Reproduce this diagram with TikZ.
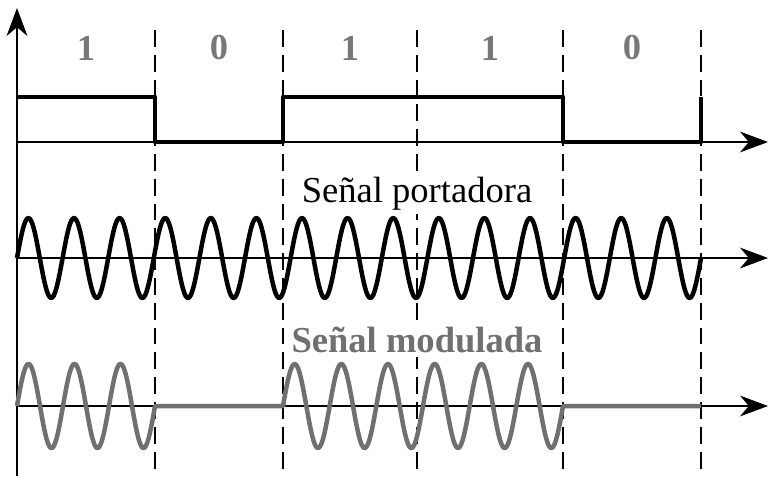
\documentclass[tikz,border=0pt]{standalone}
\usepackage{fontspec}
\setmainfont{Liberation Serif}
\usetikzlibrary{arrows.meta}
\definecolor{gristexto}{RGB}{120,120,120}
\definecolor{grisonda}{RGB}{112,112,112}

\begin{document}
\begin{tikzpicture}[x=0.025cm,y=0.025cm,line join=round,
  eje/.style={line width=1.2pt,-{Stealth[length=0.7cm,width=0.52cm,inset=0.22cm]}},
  limite/.style={line width=1.1pt,dash pattern=on 0.42cm off 0.2cm},
  digital/.style={line width=3pt},
  portadora/.style={line width=3.2pt,samples=500},
  modulada/.style={line width=3.2pt,grisonda,samples=300},
  bit/.style={font=\fontsize{26}{30}\selectfont\bfseries,text=gristexto,inner sep=0pt},
  titulo/.style={font=\fontsize{26}{30}\selectfont,fill=white,inner sep=3pt,anchor=base}]
  \useasboundingbox (0,0) rectangle (768,476);
  % Ejes
  \coordinate (origen) at (17,0);
  \coordinate (tope) at (17,468);
  \draw[eje] (origen) -- (tope);
  \foreach \n/\y in {dig/334,port/218,mod/70}{
    \coordinate (\n-ini) at (17,\y);
    \coordinate (\n-fin) at (768,\y);
    \draw[eje] (\n-ini) -- (\n-fin);
  }
  % Limites de cada bit
  \foreach \x in {155,283,417,563,701}
    \draw[limite] (\x,446) -- (\x,0);
  \foreach \xa/\xb/\b [count=\i] in {17/155/1,155/283/0,283/417/1,417/563/1,563/701/0}
    \node[bit] (bit\i) at ({(\xa+\xb)/2},428) {\b};
  % Datos digitales
  \draw[digital] (17,379) -- (155,379) -- (155,334) -- (283,334) -- (283,379)
    -- (563,379) -- (563,334) -- (701,334) -- (701,379);
  % Portadora: 15 ciclos
  \node[titulo] (tportadora) at (417,274) {Señal portadora};
  \draw[portadora] plot[domain=17:701] (\x,{218+40*sin((\x-17)/684*5400)});
  % Modulada (ASK)
  \node[titulo,font=\fontsize{26}{30}\selectfont\bfseries,text=grisonda] (tmodulada) at (417,124) {Señal modulada};
  \draw[modulada] plot[domain=17:155] (\x,{70+42*sin((\x-17)/138*1080)})
    -- plot[domain=283:563] (\x,{70+42*sin((\x-283)/280*2160)}) -- (701,70);
\end{tikzpicture}
\end{document}
